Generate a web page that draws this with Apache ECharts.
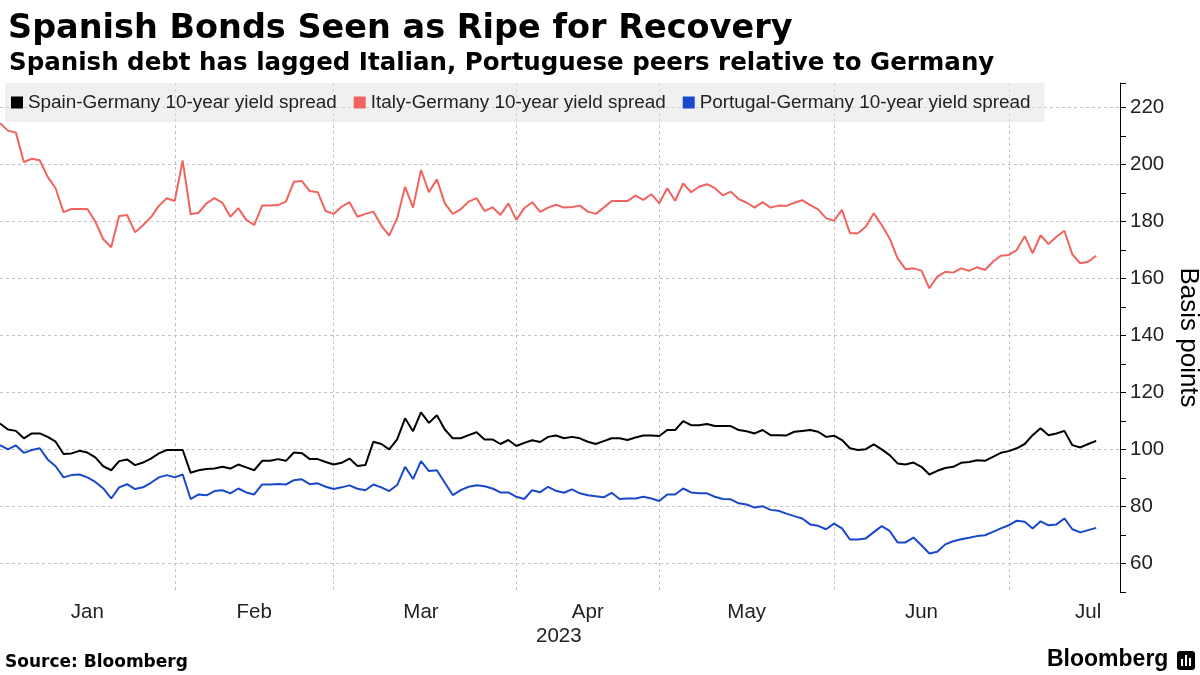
<!DOCTYPE html>
<html>
<head>
<meta charset="utf-8">
<script src="https://cdn.jsdelivr.net/npm/echarts@6/dist/echarts.min.js"></script>
<style>
html,body{margin:0;padding:0;background:#fff;}
#chart{width:1200px;height:675px;}
</style>
</head>
<body>
<div id="chart"></div>
<script>
// Trading days (business days, bond-market holidays removed), 2023
const tradingDays = {
  '2023-01': [2,3,4,5,6,9,10,11,12,13,16,17,18,19,20,23,24,25,26,27,30,31],
  '2023-02': [1,2,3,6,7,8,9,10,13,14,15,16,17,20,21,22,23,24,27,28],
  '2023-03': [1,2,3,6,7,8,9,10,13,14,15,16,17,20,21,22,23,24,27,28,29,30,31],
  '2023-04': [3,4,5,6,11,12,13,14,17,18,19,20,21,24,25,26,27,28],
  '2023-05': [2,3,4,5,8,9,10,11,12,15,16,17,18,19,22,23,24,25,26,29,30,31],
  '2023-06': [1,2,5,6,7,8,9,12,13,14,15,16,19,20,21,22,23,26,27,28,29,30],
  '2023-07': [3,4,5,6,7,10,11,12,13,14,17,18,19,20,21]
};
const monthLabelDates = ['2023-01-17','2023-02-15','2023-03-16','2023-04-18','2023-05-17','2023-06-16','2023-07-17'];
const monthGridDates = ['2023-02-01','2023-03-01','2023-04-03','2023-05-02','2023-06-01','2023-07-03'];
const monthNames = ['Jan','Feb','Mar','Apr','May','Jun','Jul','Aug','Sep','Oct','Nov','Dec'];
const yTickLabels = [60,80,100,120,140,160,180,200,220];

const seriesNames = ['Spain-Germany 10-year yield spread','Italy-Germany 10-year yield spread','Portugal-Germany 10-year yield spread'];

const spain = [
109.1,107.0,106.5,103.9,105.6,105.6,104.4,102.7,98.4,98.6,
99.5,98.9,97.2,94.1,92.7,95.9,96.5,94.5,95.4,96.8,
98.6,99.8,99.8,99.8,91.8,92.7,93.1,93.3,93.9,93.3,
94.7,93.7,92.7,96.0,96.0,96.6,96.0,98.9,98.7,96.6,
96.6,95.6,94.7,95.3,96.8,94.2,94.5,102.7,101.9,100.0,
103.5,110.9,106.4,113.0,109.3,112.0,107.0,103.9,103.9,105.0,
106.0,103.5,103.5,101.9,103.3,101.2,102.3,103.2,102.6,104.4,
104.9,103.9,104.4,103.9,102.7,101.9,102.9,103.9,103.9,103.3,
104.2,104.9,104.9,104.7,106.8,106.8,109.9,108.5,108.5,108.9,
108.2,108.2,108.2,106.8,106.4,105.6,106.8,105.0,105.0,104.9,
106.2,106.5,106.8,106.2,104.4,104.8,103.3,100.4,99.8,100.1,
101.8,100.0,98.0,95.1,94.7,95.4,93.9,91.2,92.5,93.5,
93.9,95.3,95.6,96.2,96.0,97.4,98.8,99.4,100.4,101.9,
105.0,107.4,105.0,105.6,106.5,101.5,100.7,101.9,103.0
];
const italy = [
214.4,211.8,211.1,200.8,201.9,201.4,195.6,191.6,183.2,184.3,
184.3,184.3,179.9,173.7,170.9,181.9,182.2,176.2,178.6,181.4,
185.4,188.1,187.1,201.3,182.5,183.0,186.3,188.1,186.5,181.6,
184.6,180.5,178.7,185.5,185.5,185.7,186.9,193.9,194.1,190.6,
190.2,183.6,182.6,185.1,186.7,181.6,182.6,183.4,178.5,175.0,
181.1,192.1,184.8,198.0,190.2,194.7,186.3,182.6,184.2,186.9,
188.1,183.6,184.9,182.2,186.3,180.5,184.6,186.7,183.3,184.8,
185.8,184.8,185.0,185.5,183.4,182.6,184.8,187.1,187.1,187.1,
189.0,187.5,189.5,186.3,191.6,187.2,193.3,190.2,192.1,193.0,
191.6,189.1,190.4,187.8,186.5,184.8,186.7,184.8,185.5,185.4,
186.5,187.4,185.7,184.2,181.1,180.2,184.0,175.8,175.8,178.1,
182.8,178.7,174.0,167.0,163.2,163.5,162.7,156.5,160.6,162.3,
162.0,163.5,162.6,163.9,162.9,165.8,167.9,168.2,169.9,174.8,
168.8,175.1,172.0,174.6,176.7,168.4,165.3,165.8,167.9
];
const portugal = [
101.5,100.0,101.4,98.8,99.8,100.4,96.5,94.1,90.2,91.0,
91.2,90.2,88.6,86.3,82.8,86.7,87.8,86.1,86.7,88.3,
90.2,91.0,90.2,91.2,82.6,84.2,83.9,85.4,85.7,84.6,
86.3,84.9,84.2,87.7,87.7,87.9,87.7,89.2,89.5,87.8,
88.1,86.9,86.1,86.7,87.4,86.2,85.7,87.7,86.7,85.4,
87.5,93.9,89.6,95.9,92.4,92.7,88.3,84.0,85.7,86.9,
87.4,87.1,86.3,84.9,84.9,83.4,82.6,85.7,85.0,86.9,
85.5,84.8,86.0,84.6,83.9,83.6,83.2,84.8,82.6,82.8,
82.8,83.4,82.8,81.9,84.2,84.2,86.3,84.9,84.6,84.6,
83.4,82.6,82.5,81.1,80.7,79.6,80.1,78.8,78.5,77.5,
76.6,75.8,73.7,73.2,72.0,74.0,72.3,68.4,68.4,68.8,
71.0,73.1,71.4,67.4,67.4,69.1,66.4,63.5,64.1,66.7,
67.8,68.5,69.0,69.6,69.9,71.1,72.3,73.4,75.0,74.6,
72.3,74.8,73.4,73.7,75.8,72.0,70.9,71.7,72.5
];

const categories = [];
Object.keys(tradingDays).forEach(function (m) {
  tradingDays[m].forEach(function (d) {
    categories.push(m + '-' + (d < 10 ? '0' + d : '' + d));
  });
});

const colors = ['#000000', '#f0645f', '#1a48cc'];
const gridColor = '#c4c4c4';
const labelFont = 'Liberation Sans';

const chart = echarts.init(document.getElementById('chart'), null, {renderer: 'canvas'});
chart.setOption({
  animation: false,
  backgroundColor: '#ffffff',
  title: [
    {text: 'Spanish Bonds Seen as Ripe for Recovery', left: 3, top: 4,
     textStyle: {fontFamily: 'DejaVu Sans', fontWeight: 'bold', fontSize: 33.5, color: '#000', lineHeight: 40}},
    {text: 'Spanish debt has lagged Italian, Portuguese peers relative to Germany', left: 4, top: 45,
     textStyle: {fontFamily: 'DejaVu Sans', fontWeight: 'bold', fontSize: 24.5, color: '#000', lineHeight: 28}}
  ],
  legend: {
    left: 5, top: 83,
    padding: [10, 14, 10, 6],
    backgroundColor: 'rgba(225,225,225,0.5)',
    itemWidth: 12, itemHeight: 12, itemGap: 17,
    icon: 'rect',
    data: seriesNames,
    textStyle: {fontFamily: labelFont, fontSize: 18.9, color: '#222', lineHeight: 18}
  },
  grid: {left: 0, right: 80, top: 83, bottom: 83, containLabel: false, outerBoundsMode: 'none'},
  xAxis: {
    type: 'category',
    data: categories,
    boundaryGap: false,
    axisLine: {show: false},
    axisTick: {show: false},
    axisLabel: {
      interval: function (idx, val) { return monthLabelDates.indexOf(val) >= 0; },
      formatter: function (val) { return monthNames[parseInt(val.slice(5, 7), 10) - 1]; },
      fontFamily: labelFont, fontSize: 20.5, color: '#222', margin: 10
    },
    splitLine: {
      show: true,
      interval: function (idx, val) { return monthGridDates.indexOf(val) >= 0; },
      lineStyle: {color: gridColor, type: [3, 3], width: 1}
    }
  },
  yAxis: {
    type: 'value',
    position: 'right',
    min: 50, max: 228.5, interval: 10,
    name: 'Basis points',
    nameLocation: 'middle',
    nameRotate: -90,
    nameGap: 52,
    nameTextStyle: {fontFamily: labelFont, fontSize: 26, color: '#000'},
    axisLine: {show: true, lineStyle: {color: '#000', width: 1}},
    axisTick: {show: true, inside: false, length: 6, lineStyle: {color: '#000', width: 1}},
    axisLabel: {
      fontFamily: labelFont, fontSize: 20.5, color: '#222', margin: 10,
      formatter: function (v) { return yTickLabels.indexOf(v) >= 0 ? String(v) : ''; }
    },
    splitLine: {show: true, lineStyle: {color: ['rgba(0,0,0,0)', gridColor], type: [3, 3], width: 1}}
  },
  series: [
    {name: seriesNames[0], type: 'line', data: spain, symbol: 'none', z: 4,
     itemStyle: {color: colors[0]}, lineStyle: {color: colors[0], width: 2}},
    {name: seriesNames[1], type: 'line', data: italy, symbol: 'none', z: 3,
     itemStyle: {color: colors[1]}, lineStyle: {color: colors[1], width: 2}},
    {name: seriesNames[2], type: 'line', data: portugal, symbol: 'none', z: 3,
     itemStyle: {color: colors[2]}, lineStyle: {color: colors[2], width: 2}}
  ],
  graphic: [
    {type: 'text', left: 560 - 24, top: 626,
     style: {text: '2023', font: '20.5px "Liberation Sans"', fill: '#222'}},
    {type: 'text', left: 5, top: 654,
     style: {text: 'Source: Bloomberg', font: 'bold 17px "DejaVu Sans"', fill: '#000'}},
    {type: 'text', left: 1047, top: 648,
     style: {text: 'Bloomberg', font: 'bold 23px "Liberation Sans"', fill: '#000'}},
    {type: 'group', left: 1177, top: 651, children: [
      {type: 'rect', shape: {x: 0, y: 0, width: 18, height: 19, r: 3}, style: {fill: '#000'}},
      {type: 'rect', shape: {x: 4, y: 8, width: 2, height: 7}, style: {fill: '#fff'}},
      {type: 'rect', shape: {x: 8, y: 4, width: 2, height: 11}, style: {fill: '#fff'}},
      {type: 'rect', shape: {x: 12, y: 7, width: 2, height: 8}, style: {fill: '#fff'}}
    ]}
  ]
});
</script>
</body>
</html>
